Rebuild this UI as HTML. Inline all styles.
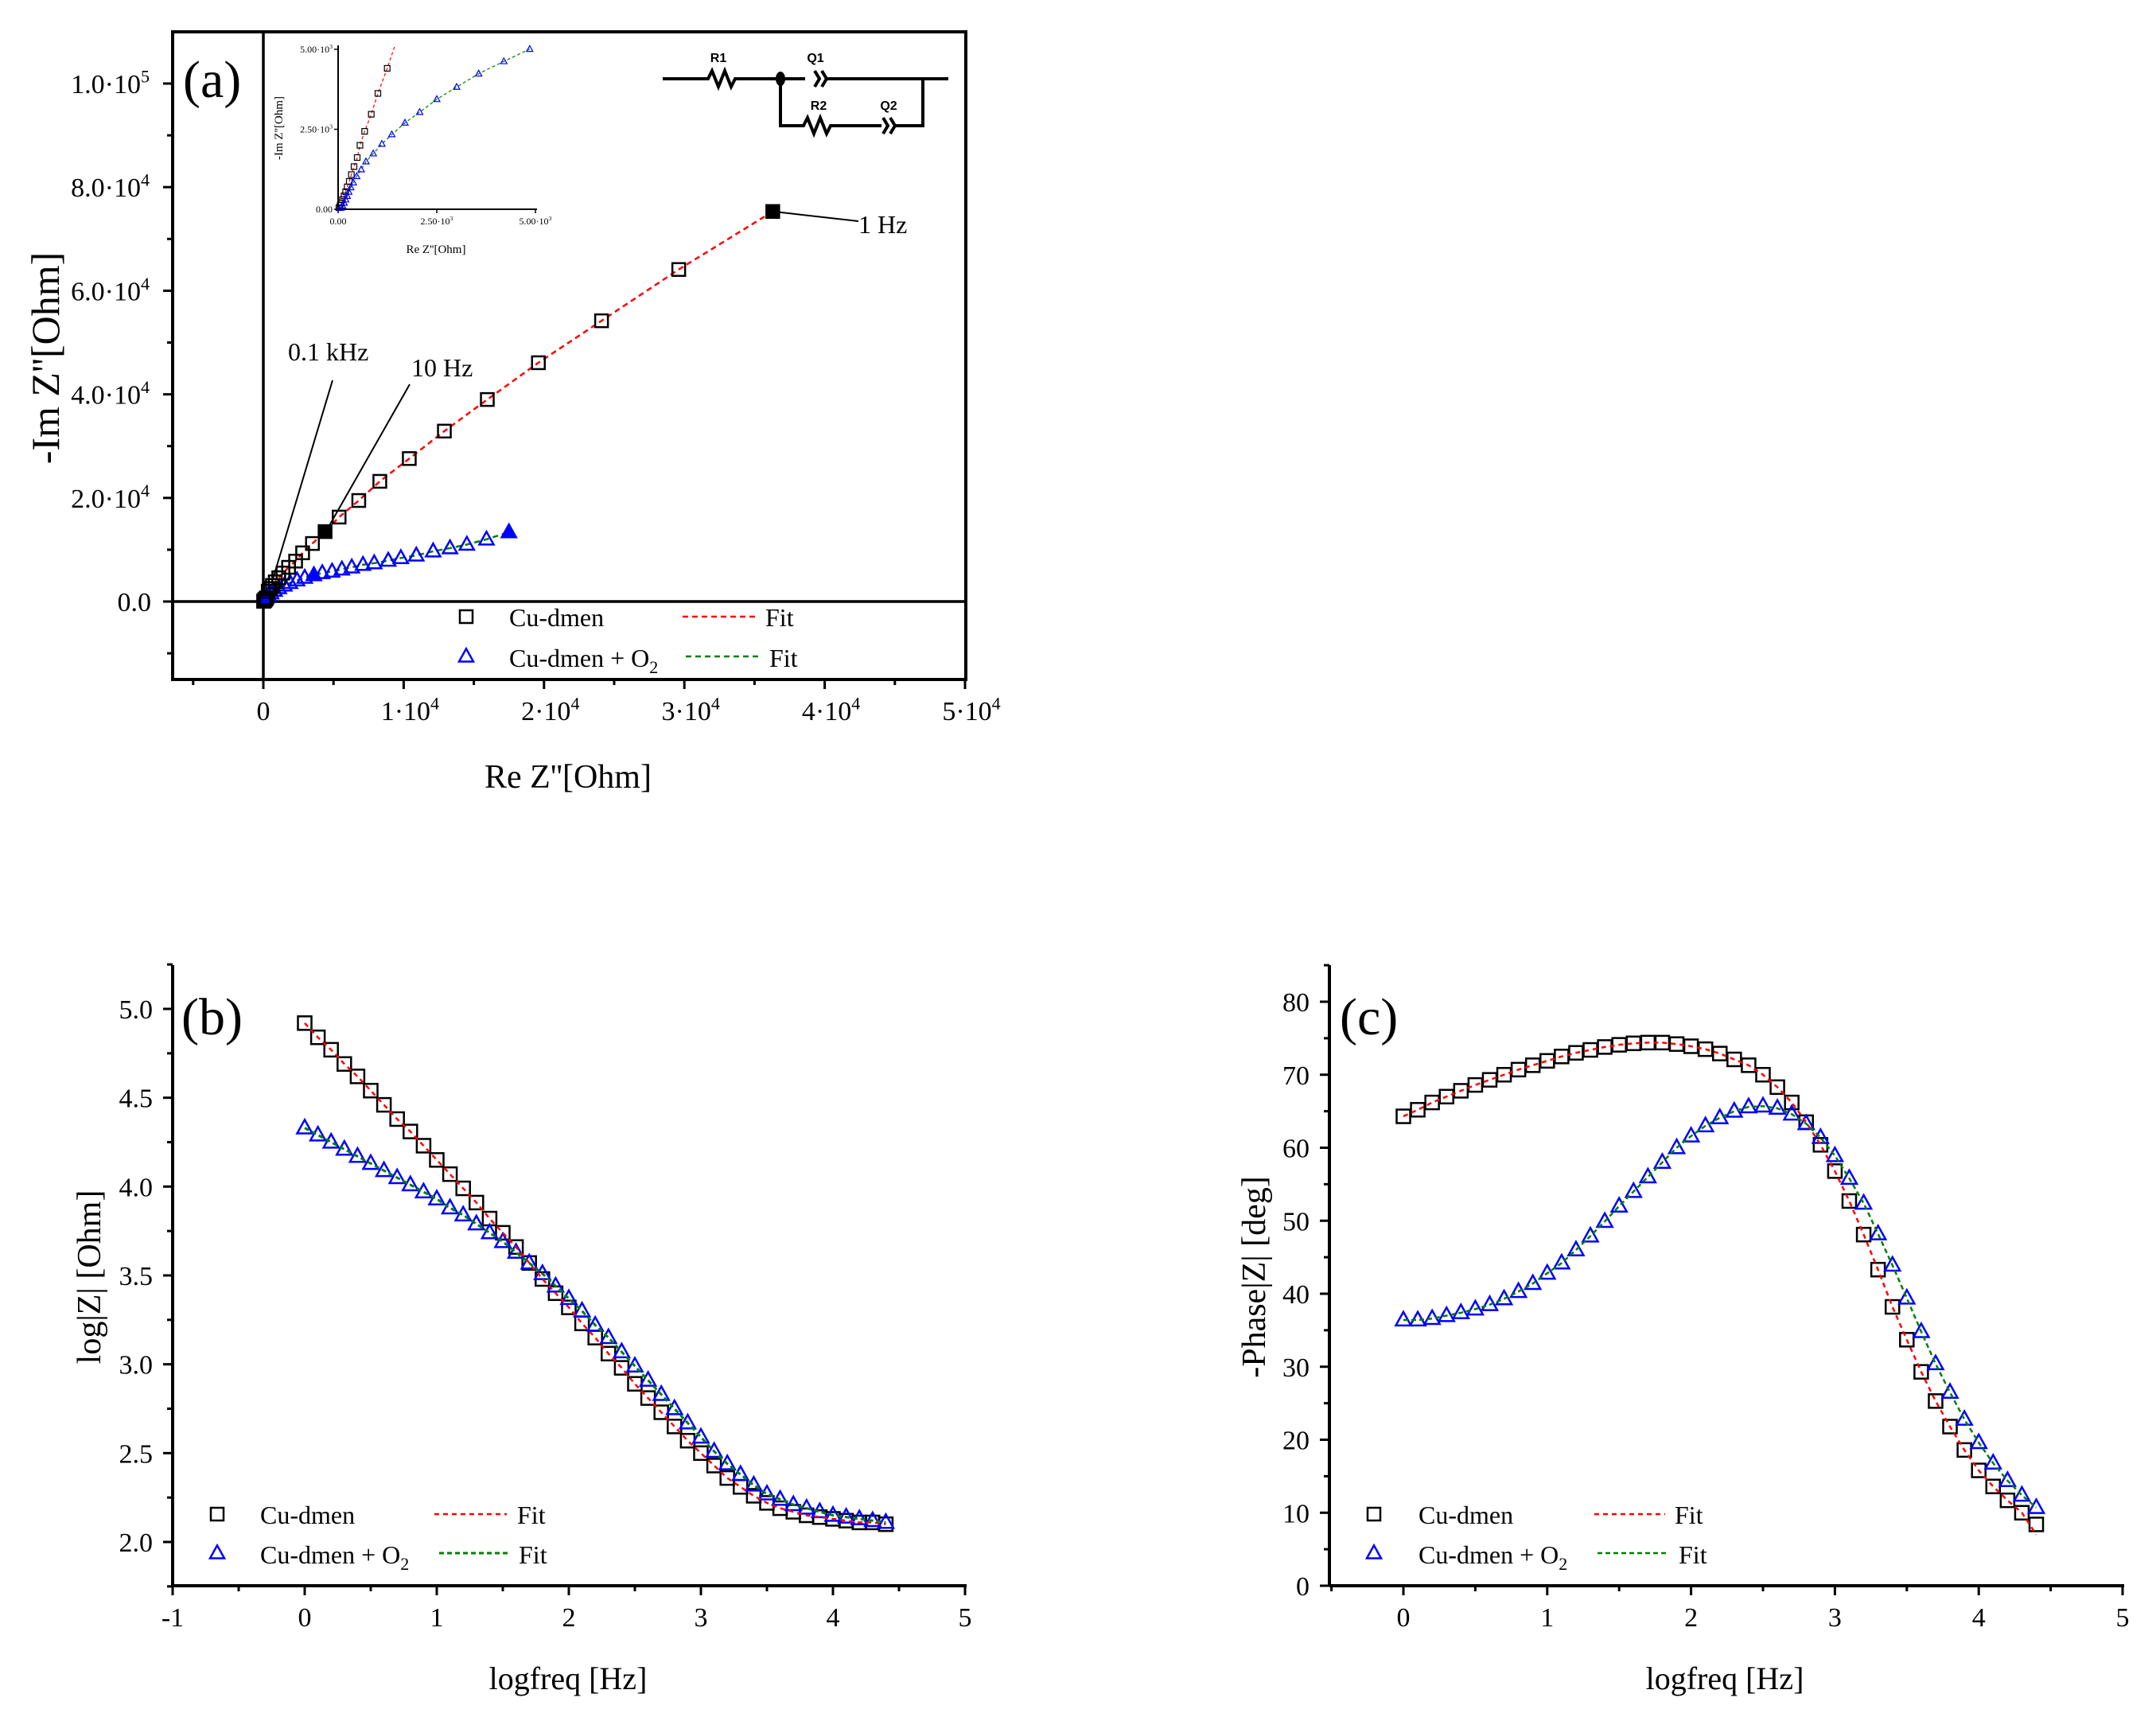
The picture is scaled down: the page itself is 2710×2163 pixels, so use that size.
<!DOCTYPE html>
<html><head><meta charset="utf-8"><style>
body{margin:0;background:#fff}
svg{display:block;font-family:"Liberation Serif",serif}
</style></head><body>
<svg id="chart" width="2710" height="2163" viewBox="0 0 2710 2163" xmlns="http://www.w3.org/2000/svg"></svg>
<script>
// ---------- data ----------
const logf = [0,0.1,0.2,0.3,0.4,0.5,0.6,0.7,0.8,0.9,1.0,1.1,1.2,1.3,1.4,1.5,1.6,1.7,1.8,1.9,2.0,2.1,2.2,2.3,2.4,2.5,2.6,2.7,2.8,2.9,3.0,3.1,3.2,3.3,3.4,3.5,3.6,3.7,3.8,3.9,4.0,4.1,4.2,4.3,4.4];
const logZBlack = [4.92,4.84,4.77,4.69,4.62,4.54,4.46,4.38,4.31,4.23,4.15,4.07,3.99,3.91,3.82,3.74,3.66,3.57,3.48,3.40,3.32,3.23,3.15,3.06,2.98,2.89,2.81,2.73,2.65,2.57,2.50,2.43,2.36,2.31,2.26,2.22,2.19,2.17,2.15,2.14,2.13,2.12,2.11,2.11,2.10];
const logZBlue = [4.33,4.29,4.25,4.21,4.17,4.13,4.09,4.05,4.01,3.97,3.93,3.88,3.84,3.79,3.74,3.69,3.63,3.57,3.51,3.44,3.37,3.30,3.22,3.15,3.07,2.99,2.91,2.83,2.75,2.67,2.59,2.51,2.44,2.38,2.32,2.27,2.24,2.21,2.19,2.17,2.15,2.14,2.13,2.12,2.11];
const phaseBlack = [64.3,65.2,66.2,67.0,67.8,68.6,69.3,70.0,70.7,71.3,71.9,72.5,73.0,73.4,73.8,74.1,74.3,74.4,74.4,74.2,73.9,73.5,72.9,72.1,71.3,70.0,68.3,66.2,63.5,60.4,56.8,52.7,48.1,43.3,38.2,33.7,29.3,25.3,21.8,18.6,15.8,13.6,11.7,10.0,8.4];
const phaseBlue = [36.4,36.4,36.6,37.0,37.4,37.9,38.5,39.3,40.3,41.4,42.8,44.2,46.0,47.9,49.9,52.0,54.0,56.0,58.0,60.0,61.6,63.0,64.1,65.0,65.6,65.7,65.4,64.6,63.3,61.4,58.9,55.8,52.4,48.2,43.9,39.4,34.8,30.4,26.5,22.8,19.6,16.8,14.4,12.4,10.7];
const phaseBlackFitEnd = 7.0;
const nyqBlackRe = [20,50,80,110,150,190,230,350,500,650,850,1100,1400,1800,2300,2800,3500,4400,5400,6800,8300,10400,12900,15960,19600,24100,29600,36300];
const nyqBlackIm = [50,120,200,300,420,550,700,2000,2500,3100,3800,4600,5500,6600,7800,9400,11200,13500,16300,19500,23200,27600,32900,39000,46100,54200,64100,75300];
const nyqBlueRe = [100,200,350,550,800,1100,1500,1900,2400,2950,3600,4200,4900,5600,6300,7100,7900,8900,9800,10900,12100,13300,14500,15900,17500];
const nyqBlueIm = [400,800,1200,1600,2100,2600,3100,3600,4100,4600,5100,5500,5800,6200,6600,7100,7400,7900,8400,8900,9700,10300,11000,12000,13400];
const insBlackRe = [20,50,80,110,150,190,230,282,336,403,484,554,672,840,1008,1244];
const insBlackIm = [50,120,200,300,420,550,700,870,1082,1333,1617,2000,2435,2970,3622,4406];
const insBlueRe = [70,110,150,190,230,270,320,385,470,585,706,890,1109,1361,1694,2067,2500,3004,3562,4200,4855];
const insBlueIm = [40,110,200,300,410,540,680,830,1030,1240,1490,1740,2040,2338,2702,3035,3438,3821,4239,4622,5007];
const bTicksX = [-1,0,1,2,3,4,5];
const bTicksY = ["2.0","2.5","3.0","3.5","4.0","4.5","5.0"];
const cTicksX = [0,1,2,3,4,5];
const cTicksY = [0,10,20,30,40,50,60,70,80];
const aTicksX = [0,1,2,3,4,5];
const aTicksY = [0,2,4,6,8,10];

// ---------- helpers ----------
const NS = "http://www.w3.org/2000/svg";
const svg = document.getElementById('chart');
function el(tag, attrs, parent){ const e=document.createElementNS(NS,tag); for(const k in attrs) e.setAttribute(k,attrs[k]); (parent||svg).appendChild(e); return e; }
function lin(d0,d1,p0,p1){ return v => p0 + (v-d0)/(d1-d0)*(p1-p0); }
function square(g,x,y,s,fill){ const r=el('rect',{x:x-s/2,y:y-s/2,width:s,height:s,fill:fill||'none',stroke:'#000','stroke-width':2.5},g);

 return r; }
function tri(g,x,y,s,fill){ const h=s*0.9; const p=el('polygon',{points:`${x},${y-h*0.6} ${x-s/2},${y+h*0.4} ${x+s/2},${y+h*0.4}`,fill:fill||'none',stroke:'#0000ff','stroke-width':2.5},g);

 return p; }
function poly(g,xs,ys,fx,fy,color,w,dash){ const pts=xs.map((x,i)=>fx(x)+','+fy(ys[i])).join(' '); const p=el('polyline',{points:pts,fill:'none',stroke:color,'stroke-width':w||2.5,'stroke-dasharray':dash||'8,5'},g);

 return p; }
function text(g,x,y,str,size,anchor,extra){ const t=el('text',Object.assign({x:x,y:y,'font-size':size,'text-anchor':anchor||'start',fill:'#000'},extra||{}),g); t.textContent=str; return t; }
function supText(g,x,y,base,sup,size,anchor){ const t=el('text',{x:x,y:y,'font-size':size,'text-anchor':anchor||'end',fill:'#000'},g);
const a=el('tspan',{},t); a.textContent=base;
if(sup){ const b=el('tspan',{'font-size':size*0.65,dy:-size*0.4},t); b.textContent=sup; }
return t; }

// ---------- Panel A ----------
{
const g=el('g',{});  
const X=lin(0,50000,331,1213), Y=lin(0,100000,756,105);
el('rect',{x:217,y:40,width:997,height:814,fill:'none',stroke:'#000','stroke-width':4},g);
el('line',{x1:X(0),y1:40,x2:X(0),y2:854,stroke:'#000','stroke-width':3.5},g);
el('line',{x1:217,y1:Y(0),x2:1214,y2:Y(0),stroke:'#000','stroke-width':3.5},g);
for(let v=-10000; v<=110000; v+=10000){ const y=Y(v); if(y<40||y>854) continue; const major=(v%20000===0); el('line',{x1:217,y1:y,x2:217-(major?12:7),y2:y,stroke:'#000','stroke-width':3},g); }
for(let v=-5000; v<=50000; v+=5000){ const x=X(v); if(x<217||x>1214) continue; const major=(v%10000===0); el('line',{x1:x,y1:854,x2:x,y2:854+(major?12:7),stroke:'#000','stroke-width':3},g); }
aTicksY.forEach(v=>{ const y=Y(v*10000)+12; if(v===0) supText(g,190,y,'0.0','',34); else if(v===10) supText(g,188,y,'1.0·10','5',34); else supText(g,188,y,v.toFixed(1)+'·10','4',34); });
aTicksX.forEach(v=>{ const x=X(v*10000); if(v===0) supText(g,x,905,'0','',34,'middle'); else supText(g,x+8,905,v+'·10','4',34,'middle'); });
const yt=text(g,0,0,"-Im Z''[Ohm]",50,'middle',{transform:'translate(74,450) rotate(-90)'});  
const xt=text(g,714,990,"Re Z''[Ohm]",42,'middle');  
text(g,230,122,'(a)',66);
poly(g,nyqBlackRe,nyqBlackIm,X,Y,'#ff0000',2.5,'7,5');
poly(g,nyqBlueRe,nyqBlueIm,X,Y,'#008000',2.5,'7,5');
nyqBlueRe.forEach((v,i)=>tri(g,X(v),Y(nyqBlueIm[i]),18,(i===nyqBlueRe.length-1||i===10)?'#0000ff':'none'));
nyqBlackRe.forEach((v,i)=>square(g,X(v),Y(nyqBlackIm[i]),16,(i===nyqBlackRe.length-1||i===17)?'#000':'none'));
// annotations
el('line',{x1:418,y1:478,x2:342,y2:731,stroke:'#000','stroke-width':2},g);
el('line',{x1:515,y1:483,x2:412,y2:664,stroke:'#000','stroke-width':2},g);
el('line',{x1:X(36300),y1:Y(75300),x2:1079,y2:278,stroke:'#000','stroke-width':2},g);
text(g,362,453,'0.1 kHz',32); text(g,517,473,'10 Hz',32); text(g,1079,293,'1 Hz',32);
// legend
const lg=el('g',{},g);  
square(lg,586,775,16); text(lg,640,787,'Cu-dmen',32);
el('line',{x1:858,y1:775,x2:952,y2:775,stroke:'#ff0000','stroke-width':2.5,'stroke-dasharray':'7,5'},lg); text(lg,962,787,'Fit',32);
tri(lg,586,825,18); const l2=text(lg,640,838,'Cu-dmen + O',32); const s2=el('tspan',{'font-size':22,dy:8},l2); s2.textContent='2';
el('line',{x1:862,y1:825,x2:954,y2:825,stroke:'#008000','stroke-width':2.5,'stroke-dasharray':'7,5'},lg); text(lg,967,838,'Fit',32);
// inset
const ig=el('g',{},g);  
const IX=lin(0,5000,425,673), IY=lin(0,5000,263,62);
el('line',{x1:425,y1:57,x2:425,y2:263,stroke:'#000','stroke-width':2},ig);
el('line',{x1:425,y1:263,x2:675,y2:263,stroke:'#000','stroke-width':2},ig);
[0,2500,5000].forEach(v=>{ el('line',{x1:IX(v),y1:263,x2:IX(v),y2:268,stroke:'#000','stroke-width':1.5},ig); el('line',{x1:425,y1:IY(v),x2:420,y2:IY(v),stroke:'#000','stroke-width':1.5},ig); });
supText(ig,IX(0),282,'0.00','',12,'middle'); supText(ig,IX(2500),282,'2.50·10','3',12,'middle'); supText(ig,IX(5000),282,'5.00·10','3',12,'middle');
supText(ig,418,IY(0)+4,'0.00','',12); supText(ig,418,IY(2500)+4,'2.50·10','3',12); supText(ig,418,IY(5000)+4,'5.00·10','3',12);
text(ig,548,318,"Re Z''[Ohm]",15,'middle'); text(ig,0,0,"-Im Z''[Ohm]",15,'middle',{transform:'translate(355,161) rotate(-90)'});
poly(ig,insBlackRe.concat([1450]),insBlackIm.concat([5150]),IX,IY,'#ff0000',1.2,'4,3');
poly(ig,insBlueRe,insBlueIm,IX,IY,'#008000',1.2,'4,3');
insBlackRe.forEach((v,i)=>{ const r=square(ig,IX(v),IY(insBlackIm[i]),7); r.setAttribute('stroke-width',1.2); });
insBlueRe.forEach((v,i)=>{ const p=tri(ig,IX(v),IY(insBlueIm[i]),8); p.setAttribute('stroke-width',1.2); });
// circuit
const cg=el('g',{stroke:'#000','stroke-width':4,fill:'none'},g);  
el('path',{d:'M833,99 H890 l5,-10 l8,20 l8,-20 l8,20 l5,-10 H1012 M1024,89 l6,10 l-6,10 M1033,89 l6,10 l-6,10 M1039,99 H1192 M981,99 V158 H1010 l5,-10 l8,20 l8,-20 l8,20 l5,-10 H1108 M1110,148 l6,10 l-6,10 M1119,148 l6,10 l-6,10 M1125,158 H1160 V99'},cg);
el('ellipse',{cx:981,cy:99,rx:6,ry:9,fill:'#000',stroke:'none'},g);
const cl={'font-size':16,'font-family':'"Liberation Sans",sans-serif','font-weight':'bold'};
text(g,903,78,'R1',16,'middle',cl); text(g,1025,78,'Q1',16,'middle',cl); text(g,1029,138,'R2',16,'middle',cl); text(g,1117,138,'Q2',16,'middle',cl);
}

// ---------- Panel B ----------
{
const g=el('g',{});  
const X=lin(-1,5,217,1213), Y=lin(2.0,5.0,1938,1268);
el('line',{x1:217,y1:1213,x2:217,y2:1993,stroke:'#000','stroke-width':4},g);
el('line',{x1:217,y1:1993,x2:1215,y2:1993,stroke:'#000','stroke-width':4},g);
for(let v=1.75; v<=5.25; v+=0.25){ const major=Math.abs(v*2-Math.round(v*2))<1e-6; el('line',{x1:217,y1:Y(v),x2:217-(major?12:7),y2:Y(v),stroke:'#000','stroke-width':3},g); }
for(let v=-1; v<=5; v+=0.5){ const major=Number.isInteger(v); el('line',{x1:X(v),y1:1993,x2:X(v),y2:1993+(major?12:7),stroke:'#000','stroke-width':3},g); }
bTicksY.forEach(s=>text(g,192,Y(parseFloat(s))+12,s,34,'end'));
bTicksX.forEach(v=>text(g,X(v),2044,String(v),34,'middle'));
const yt=text(g,0,0,'log|Z| [Ohm]',42,'middle',{transform:'translate(126,1605) rotate(-90)'});  
const xt=text(g,714,2123,'logfreq [Hz]',40,'middle');  
text(g,228,1300,'(b)',66);
logf.forEach((v,i)=>square(g,X(v),Y(logZBlack[i]),17));
logf.forEach((v,i)=>tri(g,X(v),Y(logZBlue[i]),19));
poly(g,logf,logZBlack,X,Y,'#ff0000',2.5,'6,5');
poly(g,logf,logZBlue,X,Y,'#008000',3,'6,4');
const lg=el('g',{},g);  
square(lg,273,1903,16); text(lg,327,1915,'Cu-dmen',32);
el('line',{x1:546,y1:1903,x2:637,y2:1903,stroke:'#ff0000','stroke-width':2.5,'stroke-dasharray':'6,5'},lg); text(lg,650,1915,'Fit',32);
tri(lg,273,1952,18); const l2=text(lg,327,1965,'Cu-dmen + O',32); const s2=el('tspan',{'font-size':22,dy:8},l2); s2.textContent='2';
el('line',{x1:552,y1:1952,x2:642,y2:1952,stroke:'#008000','stroke-width':3,'stroke-dasharray':'6,4'},lg); text(lg,652,1965,'Fit',32);
}

// ---------- Panel C ----------
{
const g=el('g',{});  
const X=lin(0,5,1764,2668), Y=lin(0,80,1993,1259);
el('line',{x1:1671,y1:1213,x2:1671,y2:1993,stroke:'#000','stroke-width':4},g);
el('line',{x1:1671,y1:1993,x2:2670,y2:1993,stroke:'#000','stroke-width':4},g);
for(let v=0; v<=85; v+=5){ const major=v%10===0; el('line',{x1:1671,y1:Y(v),x2:1671-(major?12:7),y2:Y(v),stroke:'#000','stroke-width':3},g); }
for(let v=-0.5; v<=5; v+=0.5){ const major=Number.isInteger(v); el('line',{x1:X(v),y1:1993,x2:X(v),y2:1993+(major?12:7),stroke:'#000','stroke-width':3},g); }
cTicksY.forEach(v=>text(g,1646,Y(v)+12,String(v),34,'end'));
cTicksX.forEach(v=>text(g,X(v),2044,String(v),34,'middle'));
const yt=text(g,0,0,'-Phase|Z| [deg]',42,'middle',{transform:'translate(1590,1605) rotate(-90)'});  
const xt=text(g,2168,2123,'logfreq [Hz]',40,'middle');  
text(g,1684,1300,'(c)',66);
logf.forEach((v,i)=>square(g,X(v),Y(phaseBlack[i]),17));
logf.forEach((v,i)=>tri(g,X(v),Y(phaseBlue[i]),19));
const fitB=phaseBlack.slice(0,-1).concat([phaseBlackFitEnd]);
poly(g,logf,fitB,X,Y,'#ff0000',2.5,'6,5');
poly(g,logf,phaseBlue,X,Y,'#008000',2.5,'6,4');
const lg=el('g',{},g);  
square(lg,1727,1903,16); text(lg,1783,1915,'Cu-dmen',32);
el('line',{x1:2004,y1:1903,x2:2093,y2:1903,stroke:'#ff0000','stroke-width':2.5,'stroke-dasharray':'6,5'},lg); text(lg,2105,1915,'Fit',32);
tri(lg,1727,1952,18); const l2=text(lg,1783,1965,'Cu-dmen + O',32); const s2=el('tspan',{'font-size':22,dy:8},l2); s2.textContent='2';
el('line',{x1:2008,y1:1952,x2:2097,y2:1952,stroke:'#008000','stroke-width':2.5,'stroke-dasharray':'6,4'},lg); text(lg,2110,1965,'Fit',32);
}
</script>
</body></html>
